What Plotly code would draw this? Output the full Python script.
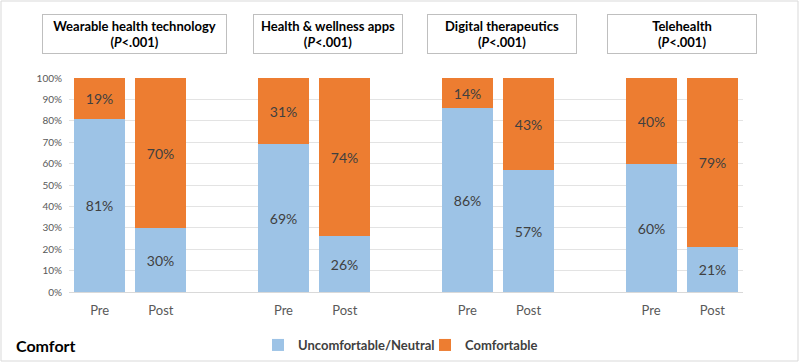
import plotly.graph_objects as go

groups = ["Wearable health technology", "Health & wellness apps", "Digital therapeutics", "Telehealth"]
phases = ["Pre", "Post"]
uncomfortable = [81, 30, 69, 26, 86, 57, 60, 21]
comfortable = [19, 70, 31, 74, 14, 43, 40, 79]
y_ticks = [0, 10, 20, 30, 40, 50, 60, 70, 80, 90, 100]

positions = []
labels = []
for gi in range(len(groups)):
    for pi, ph in enumerate(phases):
        positions.append(gi * 3 + pi)
        labels.append(ph)

L, R, T, B = 69, 57, 78, 71
W, H = 800, 363
pw, ph_ = W - L - R, H - T - B

def px(x):
    return (x - L) / pw

def py(y):
    return (H - B - y) / ph_

fig = go.Figure()
fig.add_trace(go.Bar(
    x=positions, y=uncomfortable, name="Uncomfortable/Neutral",
    marker=dict(color="#9DC3E6", line=dict(width=0)),
    width=0.83, text=[f"{v}%" for v in uncomfortable], texttemplate="%{text}",
    textposition="inside", insidetextanchor="middle",
    textfont=dict(family="Lato", size=14, color="#404040"), hoverinfo="skip"))
fig.add_trace(go.Bar(
    x=positions, y=comfortable, name="Comfortable",
    marker=dict(color="#ED7D31", line=dict(width=0)),
    width=0.83, text=[f"{v}%" for v in comfortable], texttemplate="%{text}",
    textposition="inside", insidetextanchor="middle",
    textfont=dict(family="Lato", size=14, color="#404040"), hoverinfo="skip"))

box_specs = [(42, 227), (253, 403), (427, 577), (607, 757)]
annotations = []
for g, (x0, x1) in zip(groups, box_specs):
    annotations.append(dict(
        xref="paper", yref="paper", x=px((x0 + x1) / 2), y=py(34),
        xanchor="center", yanchor="middle", showarrow=False,
        text=f"<b>{g.replace('&', '&amp;')}<br>(<i>P</i>&lt;.001)</b>",
        font=dict(family="Lato", size=13, color="#000000"),
        bordercolor="#BFBFBF", borderwidth=1, borderpad=0,
        width=x1 - x0 - 2, height=38, bgcolor="white"))
annotations.append(dict(
    xref="paper", yref="paper", x=px(14), y=py(345), xanchor="left", yanchor="middle",
    showarrow=False, text="<b>Comfort</b>",
    font=dict(family="Lato", size=16, color="#000000")))

fig.update_layout(
    width=W, height=H, margin=dict(l=L, r=R, t=T, b=B, autoexpand=False),
    barmode="stack", bargap=0, plot_bgcolor="white", paper_bgcolor="white",
    showlegend=True,
    legend=dict(orientation="h", xref="container", yref="container",
                x=258 / W, y=1 - 345 / H, xanchor="left", yanchor="middle",
                font=dict(family="Lato", size=13, color="#404040", weight="bold"),
                itemwidth=30, traceorder="normal",
                entrywidth=122, entrywidthmode="pixels"),
    annotations=annotations,
    shapes=[dict(type="rect", xref="paper", yref="paper",
                 x0=px(1), x1=px(798), y0=py(361), y1=py(1),
                 line=dict(color="#D9D9D9", width=1))],
    xaxis=dict(range=[-0.5, 10.5], tickmode="array", tickvals=positions, ticktext=labels,
               showgrid=False, zeroline=False, showline=True, linecolor="#D9D9D9",
               tickfont=dict(family="Lato", size=13, color="#595959"), ticks="",
               ticklabelstandoff=6, automargin=False),
    yaxis=dict(range=[0, 100], tickmode="array", tickvals=y_ticks,
               ticktext=[f"{v}%" for v in y_ticks],
               showgrid=True, gridcolor="#E3E3E3", zeroline=False, showline=False,
               tickfont=dict(family="Lato", size=10, color="#595959"), ticks="",
               ticklabelstandoff=6, automargin=False),
)
fig.write_html("out.html", config={"displayModeBar": False},
               post_script="document.body.style.margin='0';document.body.style.overflow='hidden';")
